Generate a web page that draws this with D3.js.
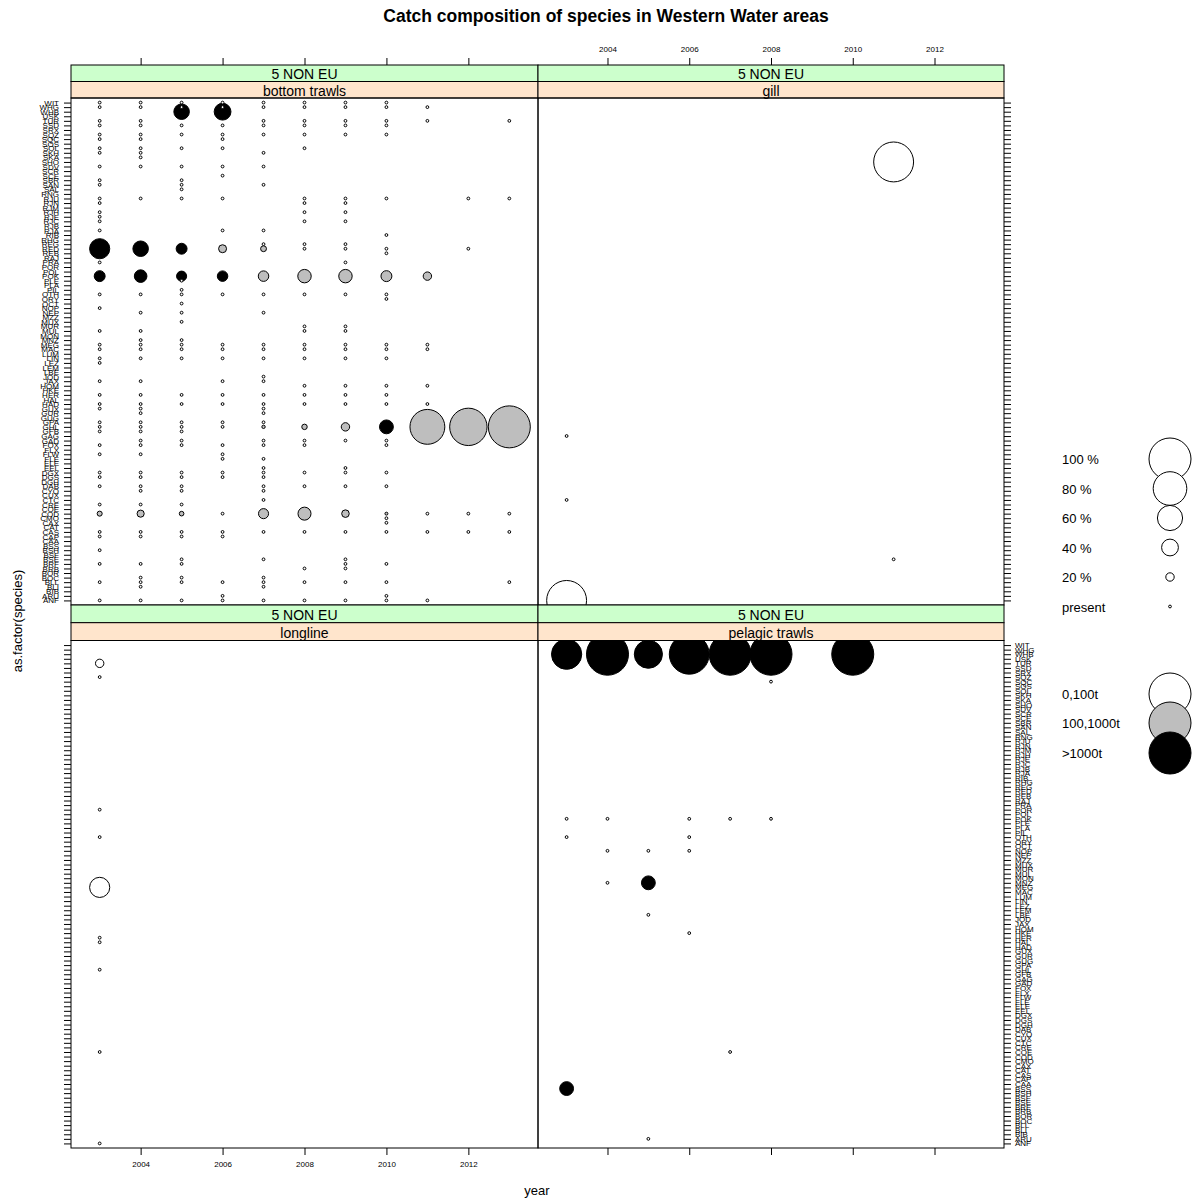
<!DOCTYPE html>
<html><head><meta charset="utf-8">
<script src="https://cdn.jsdelivr.net/npm/d3@7"></script>
<style>
body{margin:0;background:#fff}
svg{font-family:"Liberation Sans",Arial,sans-serif}
</style>
</head><body>
<svg id="chart" width="1193" height="1198"></svg>
<script>
// ---------- DATA ----------
// species levels, bottom (index 1) to top
const species = ["ANF","ARU","BIB","BLI","BLL","BOC","BOR","BRB","BRF","BSE","BSF","BSH","BSS","CAA","CAP","CAS","CAT","CAX","CMO","COD",
"COE","CRE","CTC","CUX","CYO","DAB","DGH","DGS","DGX","EEL","ELE","FLE","FLW","FLX","FOX","GAD","GAG","GFB","GHL","GPA",
"GUG","GUR","GUX","HAD","HAL","HER","HKE","HOM","JAX","JOD","LBE","LEM","LEZ","LIN","LUM","MAC","MEG","MNZ","MON","MUL",
"MUR","MUX","MZZ","NEP","NOP","OCT","ORY","OTH","PIL","PLA","PLE","POK","POL","POR","PRA","RAJ","REB","RED","REG","RHG",
"RIB","RJA","RJB","RJC","RJE","RJH","RJM","RJN","RJU","RNG","SAL","SAN","SBR","SCE","SCR","SDV","SHO","SKA","SKH","SOL",
"SOS","SQC","SQZ","SRX","SSD","TUR","USK","WHB","WHG","WIT"];
const yearTicks = [2004, 2006, 2008, 2010, 2012];
const outerStrip = "5 NON EU";
const gears = ["bottom trawls", "gill", "longline", "pelagic trawls"];

// presence-only records ("present"), per year
const bottomPresent = [
 [2003,"WIT WHG TUR SSD SQZ SQC SOL SKH SDV SBR SAN RJU RJN RJH RJE RJC RJA PRA OTH NOP MUL MEG MAC LIN LEZ JAX HER HAD GUX GPA GHL GFB FOX FLW DGX DGS DAB CRE CAS CAP BSH BRF BLL ANF"],
 [2004,"WIT WHG TUR SSD SQZ SQC SOL SKH SKA SDV RJU OTH NEP MUL MNZ MEG MAC LIN JAX HER HAD GUX GUR GPA GHL GFB GAD FOX FLW DGX DGS DAB CYO CRE CAS CAP BRF BOC BLL BLI ANF"],
 [2005,"WIT WHG SSD SQZ SOL SDV SBR SAN SAL RJU PLE PIL OTH OCT NEP MUX MNZ MEG MAC LIN HER HAD GPA GHL GFB GAD FOX DGX DGS DAB CYO CRE CAS CAP BSE BRF BOC BLL ANF"],
 [2006,"WIT WHG SSD SQZ SQC SOL SDV SCE RJU RJA OTH MEG MAC LIN JAX HER HAD GPA GHL FOX FLW FLE DGX DGS COD CAS CAP BLL ARU ANF"],
 [2007,"WIT WHG TUR SSD SQZ SKH SDV SAN RJA REG OTH NEP MEG MAC LIN JOD JAX HER HAD GUX GUR GPA GAD FOX FLE EEL DGX DGS DAB CYO CTC CAS BSE BOC BLL BLI ANF"],
 [2008,"WIT WHG TUR SSD SQZ SOL RJU RJN RJH RJC REG RED OTH MUR MUL MEG MAC LIN HOM HER HAD GAD FOX DGX DAB CAS BRB BLL ANF"],
 [2009,"WIT WHG TUR SSD SQZ RJU RJN RJH RJC REG RED PRA OTH MUR MUL MEG MAC LIN HOM HER HAD GAD EEL DGX DAB CAS BSE BRF BRB BLL ANF"],
 [2010,"WIT WHG TUR SSD SQZ RJU RIB RED REB OTH ORY MEG MAC LIN HOM HER HAD GAD FOX DGX DAB CMO CAX CAS BRF BLL ARU ANF"],
 [2011,"WHG TUR MEG MAC HOM HAD COD CAS ANF"],
 [2012,"RJU RED COD CAS"],
 [2013,"TUR RJU COD CAS BLL"]
];
const gillPresent = [[2003,"GAG CTC"],[2011,"BSE"]];
const longlinePresent = [[2003,"SQZ POR OTH HER HAL GHL COE ANF"]];
const pelagicPresent = [[2003,"POK OTH"],[2004,"POK NOP MNZ"],[2005,"NOP LBE ARU"],[2006,"POK OTH NOP HKE"],[2007,"POK COE"],[2008,"POK SQC"]];

// sized records: [year, species, tonnage class (w: 0-100t, g: 100-1000t, b: >1000t), share of catch]
const bottomCircles = [
 [2003,"RED","b",0.48],[2004,"RED","b",0.37],[2005,"RED","b",0.26],[2006,"RED","g",0.19],[2007,"RED","g",0.14],
 [2003,"POK","b",0.26],[2004,"POK","b",0.30],[2005,"POK","b",0.24],[2006,"POK","b",0.25],[2007,"POK","g",0.25],
 [2008,"POK","g",0.32],[2009,"POK","g",0.32],[2010,"POK","g",0.26],[2011,"POK","g",0.20],
 [2005,"WHB","b",0.37],[2006,"WHB","b",0.40],
 [2007,"GHL","g",0.08],[2008,"GHL","g",0.13],[2009,"GHL","g",0.20],[2010,"GHL","b",0.33],[2011,"GHL","g",0.83],[2012,"GHL","g",0.89],[2013,"GHL","g",1.00],
 [2003,"COD","g",0.12],[2004,"COD","g",0.17],[2005,"COD","g",0.11],[2007,"COD","g",0.24],[2008,"COD","g",0.31],[2009,"COD","g",0.18],[2010,"COD","g",0.07]
];
const gillCircles = [[2011,"SHO","w",0.95],[2003,"ANF","w",0.95]];
const longlineCircles = [[2003,"TUR","w",0.20],[2003,"MEG","w",0.48]];
const pelagicCircles = [
 [2003,"WHB","b",0.72],[2004,"WHB","b",1.00],[2005,"WHB","b",0.67],[2006,"WHB","b",0.95],[2007,"WHB","b",1.00],[2008,"WHB","b",1.00],[2010,"WHB","b",1.00],
 [2005,"MNZ","b",0.33],[2003,"BSS","b",0.33]
];

const sizeKeyLabels = ["100 %","80 %","60 %","40 %","20 %","present"];
const sizeKeyValues = [1.0, 0.8, 0.6, 0.4, 0.2, 0];
const classKeyLabels = ["0,100t","100,1000t",">1000t"];
const classKeyCodes = ["w","g","b"];

// ---------- DRAW ----------
const svg = d3.select("#chart");
const fillOf = {w:"#ffffff", g:"#bebebe", b:"#000000"};
const RMAX = 21;

const colX = [71, 538], colW = [467, 466];
const rowY = [{strip:65, panel:98, h:507, sh:16.5}, {strip:605, panel:640.5, h:507.5, sh:17.7}];

const panelsSpec = [
 {gear:gears[0], col:0, row:0, pres:bottomPresent, circ:bottomCircles},
 {gear:gears[1], col:1, row:0, pres:gillPresent, circ:gillCircles},
 {gear:gears[2], col:0, row:1, pres:longlinePresent, circ:longlineCircles},
 {gear:gears[3], col:1, row:1, pres:pelagicPresent, circ:pelagicCircles}
];

svg.append("text").attr("x",606).attr("y",22).attr("text-anchor","middle")
  .attr("font-size",17.5).attr("font-weight","bold").text("Catch composition of species in Western Water areas");

panelsSpec.forEach((p,i)=>{
  const x0 = colX[p.col], w = colW[p.col];
  const R = rowY[p.row];
  const stripH = R.sh;
  const x = d3.scaleLinear().domain([2002.3, 2013.7]).range([0, w]);
  const y = d3.scalePoint().domain(species).range([R.h, 0]).padding(1);

  // strips
  const s = svg.append("g").attr("transform",`translate(${x0},${R.strip})`);
  const h2 = R.panel - R.strip - stripH;
  s.append("rect").attr("width",w).attr("height",stripH).attr("fill","#ccffcc").attr("stroke","#000").attr("stroke-width",1);
  s.append("text").attr("x",w/2).attr("y",stripH/2+6).attr("text-anchor","middle").attr("font-size",14).text(outerStrip);
  s.append("rect").attr("y",stripH).attr("width",w).attr("height",h2).attr("fill","#ffe5cc").attr("stroke","#000").attr("stroke-width",1);
  s.append("text").attr("x",w/2).attr("y",stripH+h2/2+6).attr("text-anchor","middle").attr("font-size",14).text(p.gear);

  const g = svg.append("g").attr("transform",`translate(${x0},${R.panel})`);
  const cid = "clip"+i;
  g.append("clipPath").attr("id",cid).append("rect").attr("width",w).attr("height",R.h);
  const body = g.append("g").attr("clip-path",`url(#${cid})`);

  // circles
  body.selectAll("circle.c").data(p.circ).join("circle").attr("class","c")
    .attr("cx",d=>x(d[0])).attr("cy",d=>y(d[1])).attr("r",d=>RMAX*d[3])
    .attr("fill",d=>fillOf[d[2]]).attr("stroke","#000").attr("stroke-width",1);
  // present markers
  const pres = [];
  p.pres.forEach(([yr,str])=>str.split(" ").forEach(sp=>pres.push([yr,sp])));
  body.selectAll("circle.p").data(pres).join("circle").attr("class","p")
    .attr("cx",d=>x(d[0])).attr("cy",d=>y(d[1])).attr("r",1.4)
    .attr("fill","#fff").attr("stroke","#000").attr("stroke-width",1);

  g.append("rect").attr("width",w).attr("height",R.h).attr("fill","none").attr("stroke","#000").attr("stroke-width",1);

  // axes
  const styleAxis = (a,fs) => { a.select(".domain").remove(); a.selectAll("line").attr("stroke","#000"); a.selectAll("text").attr("font-size",fs).attr("fill","#000"); };
  if (p.col===0) {
    const ax = g.append("g").call(d3.axisLeft(y).tickSize(7).tickPadding(5).tickFormat(p.row===0? d=>d : ()=>""));
    styleAxis(ax, 8);
  } else {
    const ax = g.append("g").attr("transform",`translate(${w},0)`).call(d3.axisRight(y).tickSize(7).tickPadding(4).tickFormat(p.row===1? d=>d : ()=>""));
    styleAxis(ax, 8);
  }
  if (p.row===0) {
    const ax = svg.append("g").attr("transform",`translate(${x0},${R.strip})`)
      .call(d3.axisTop(x).tickValues(yearTicks).tickSize(7).tickPadding(6).tickFormat(p.col===1? d3.format("d") : ()=>""));
    styleAxis(ax, 8);
  } else {
    const ax = g.append("g").attr("transform",`translate(0,${R.h})`)
      .call(d3.axisBottom(x).tickValues(yearTicks).tickSize(7).tickPadding(6).tickFormat(p.col===0? d3.format("d") : ()=>""));
    styleAxis(ax, 8);
  }
});

// axis titles
svg.append("text").attr("transform","translate(22,621) rotate(-90)").attr("text-anchor","middle").attr("font-size",13).text("as.factor(species)");
svg.append("text").attr("x",537).attr("y",1195).attr("text-anchor","middle").attr("font-size",13).text("year");

// size key
const k1 = svg.append("g");
const k1y = [459, 488.5, 518, 547.5, 577, 606.5];
sizeKeyLabels.forEach((lab,i)=>{
  k1.append("text").attr("x",1062).attr("y",k1y[i]+5).attr("font-size",13).text(lab);
  if (sizeKeyValues[i]>0)
    k1.append("circle").attr("cx",1170).attr("cy",k1y[i]).attr("r",RMAX*sizeKeyValues[i]).attr("fill","#fff").attr("stroke","#000");
  else
    k1.append("circle").attr("cx",1170).attr("cy",k1y[i]).attr("r",1.4).attr("fill","#fff").attr("stroke","#000").attr("stroke-width",1);
});
// class key
const k2y = [694, 723, 753];
classKeyLabels.forEach((lab,i)=>{
  svg.append("text").attr("x",1062).attr("y",k2y[i]+5).attr("font-size",13).text(lab);
  svg.append("circle").attr("cx",1170).attr("cy",k2y[i]).attr("r",RMAX).attr("fill",fillOf[classKeyCodes[i]]).attr("stroke","#000");
});
</script>
</body></html>
